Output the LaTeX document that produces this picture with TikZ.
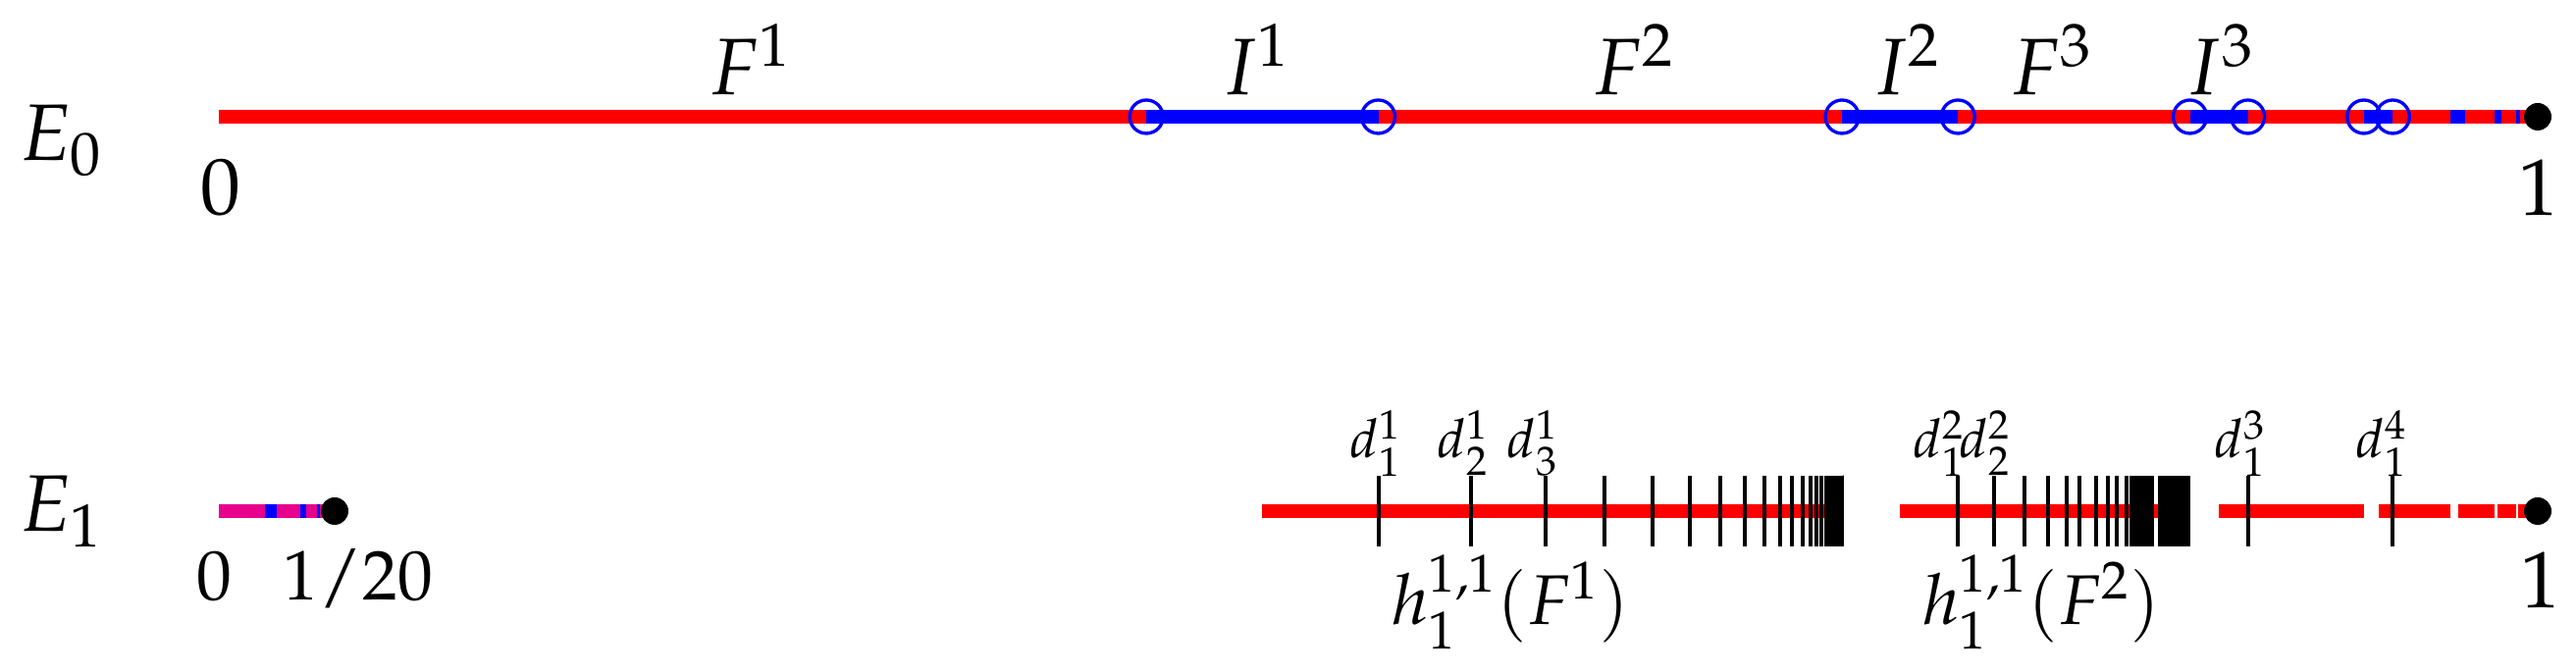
\documentclass[tikz,border=0pt]{standalone}
\usepackage{mathpazo}
\definecolor{segmag}{RGB}{230,0,140}
\begin{document}
\begin{tikzpicture}[x=0.3pt,y=-0.3pt,
  seg/.style={line width=4pt},
  fseg/.style={seg,draw=red},
  iseg/.style={seg,draw=blue},
  mseg/.style={seg,draw=segmag},
  ring/.style={circle,draw=blue,line width=1pt,minimum size=10.2pt,inner sep=0pt},
  tickmark/.style={line width=1.2pt,draw=black},
  enddot/.style={circle,fill=black,inner sep=0pt,minimum size=8.4pt},
  biglbl/.style={inner sep=0pt,anchor=base,font=\fontsize{24.5}{29}\selectfont},
  midlbl/.style={inner sep=0pt,anchor=base,font=\fontsize{21.5}{26}\selectfont},
  smalllbl/.style={inner sep=0pt,anchor=base,font=\fontsize{16.5}{20}\selectfont},
]
\useasboundingbox (0,0) rectangle (2625,685);

% ---------- E_0 ----------
\draw[fseg] (223,119) -- (2586,119);
\foreach \n in {1,...,10}{
  \pgfmathsetmacro\a{223+2363*(1-0.6*0.5^(\n-1))}
  \pgfmathsetmacro\b{223+2363*(1-0.5^\n)}
  \draw[iseg] (\a,119) -- (\b,119);
}
\foreach \n in {1,...,4}{
  \pgfmathsetmacro\a{223+2363*(1-0.6*0.5^(\n-1))}
  \pgfmathsetmacro\b{223+2363*(1-0.5^\n)}
  \node[ring] (ringL\n) at (\a,119) {};
  \node[ring] (ringR\n) at (\b,119) {};
}
\node[enddot] (dotA) at (2586,119) {};

\node[biglbl,anchor=base west] (E0) at (20,164) {$E_0$};
\node[biglbl] (zeroA) at (225,219) {$0$};
\node[biglbl] (oneA) at (2587,220) {$1$};
\node[biglbl] (F1) at (765,97) {$F^1$};
\node[biglbl] (I1) at (1280,97) {$I^1$};
\node[biglbl] (F2) at (1665,97) {$F^2$};
\node[biglbl] (I2) at (1943,97) {$I^2$};
\node[biglbl] (F3) at (2091,97) {$F^3$};
\node[biglbl] (I3) at (2262,97) {$I^3$};

% ---------- E_1 ----------
\draw[mseg] (223,521) -- (341,521);
\foreach \n in {1,...,8}{
  \pgfmathsetmacro\a{223+118.15*(1-0.6*0.5^(\n-1))}
  \pgfmathsetmacro\b{223+118.15*(1-0.5^\n)}
  \draw[iseg] (\a,521) -- (\b,521);
}
\node[enddot] (dotB) at (341,521) {};

\foreach \n in {1,...,10}{
  \pgfmathsetmacro\a{223+2363*(1-0.55*0.5^(\n-1))}
  \pgfmathsetmacro\b{223+2363*(1-0.3*0.5^(\n-1))}
  \draw[fseg] (\a,521) -- (\b,521);
}
% ticks in h(F^1)
\foreach \n in {1,...,60}{
  \pgfmathsetmacro\t{223+2363*(0.7-0.2*0.8^(\n-1))}
  \draw[tickmark] (\t,485) -- (\t,557);
}
% ticks in h(F^2)
\foreach \t in {1995,2032,2063,2087,2106,2119,2136,2148,2157,2167,
                2172,2175,2178,2181,2184,2187,2190,2193,
                2201,2204,2207,2210,2213,2216,2219,2222,2225,2228,2230}{
  \draw[tickmark] (\t,485) -- (\t,557);
}
% ticks d_1^3, d_1^4
\foreach \t in {2290.6,2438.3}{
  \draw[tickmark] (\t,485) -- (\t,557);
}
\node[enddot] (dotC) at (2586,521) {};

\node[biglbl,anchor=base west] (E1) at (20,542) {$E_1$};
\node[midlbl] (zeroB) at (218,612) {$0$};
\node[midlbl] (frac) at (365,612) {$1/20$};
\node[biglbl] (oneB) at (2589,620) {$1$};

\node[smalllbl] (d11) at (1402,467) {$d_1^1$};
\node[smalllbl] (d21) at (1491,467) {$d_2^1$};
\node[smalllbl] (d31) at (1562,467) {$d_3^1$};
\node[smalllbl] (d12) at (1976,467) {$d_1^2$};
\node[smalllbl] (d22) at (2023,467) {$d_2^2$};
\node[smalllbl] (d13) at (2283,467) {$d_1^3$};
\node[smalllbl] (d14) at (2427,467) {$d_1^4$};

\node[midlbl] (hF1) at (1539,637) {$h^{1,1}_1(F^1)$};
\node[midlbl] (hF2) at (2080,637) {$h^{1,1}_1(F^2)$};
\end{tikzpicture}
\end{document}
